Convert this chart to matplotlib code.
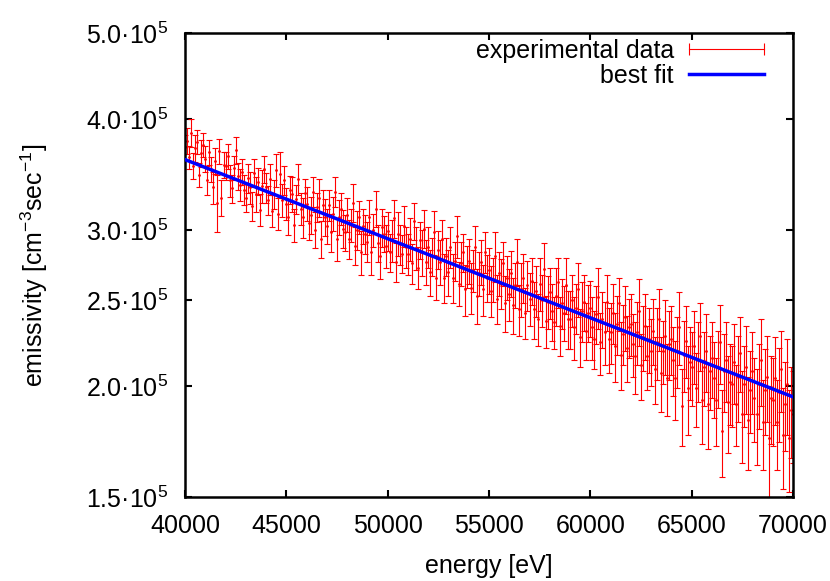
import matplotlib.pyplot as plt
import numpy as np
from matplotlib.lines import Line2D
from matplotlib.ticker import NullLocator

plt.rcParams['font.family'] = ['Liberation Sans', 'DejaVu Sans']
plt.rcParams['mathtext.default'] = 'regular'

# energy grid [eV], one point every 100 eV
energy = np.arange(40000, 70001, 100)

# emissivity, in units of 1e3 cm^-3 sec^-1
emis = [
    372, 378, 362, 386, 354, 371, 377, 346, 366, 374,
    361, 341, 367, 351, 335, 359, 322, 368, 326, 355,
    354, 363, 341, 334, 352, 369, 345, 337, 349, 333,
    326, 343, 335, 319, 348, 329, 340, 316, 336, 351,
    335, 324, 342, 315, 329, 350, 313, 347, 324, 341,
    321, 310, 333, 329, 304, 325, 342, 317, 310, 330,
    321, 305, 312, 331, 300, 318, 326, 293, 320, 310,
    303, 320, 298, 313, 331, 293, 310, 317, 301, 298,
    312, 293, 304, 322, 288, 300, 310, 283, 303, 297,
    291, 310, 283, 300, 317, 290, 280, 302, 297, 288,
    299, 283, 292, 309, 276, 297, 289, 282, 303, 287,
    282, 293, 275, 307, 286, 272, 292, 283, 301, 276,
    287, 269, 280, 298, 265, 285, 276, 293, 265, 280,
    269, 287, 265, 277, 295, 261, 275, 283, 257, 273,
    277, 258, 270, 287, 253, 268, 276, 257, 283, 265,
    270, 256, 264, 280, 251, 268, 261, 275, 248, 265,
    254, 268, 247, 260, 276, 244, 257, 265, 242, 260,
    251, 263, 244, 256, 238, 261, 250, 271, 237, 249,
    255, 243, 236, 253, 262, 234, 248, 242, 260, 238,
    238, 250, 233, 245, 257, 227, 243, 249, 231, 242,
    245, 233, 226, 241, 252, 224, 238, 230, 249, 226,
    230, 242, 222, 235, 248, 217, 229, 239, 221, 233,
    235, 223, 216, 230, 243, 211, 227, 234, 216, 226,
    219, 231, 209, 224, 238, 207, 219, 228, 204, 223,
    226, 214, 204, 219, 233, 190, 217, 225, 199, 213,
    210, 222, 199, 214, 228, 193, 210, 219, 191, 208,
    215, 204, 193, 210, 224, 178, 208, 214, 192, 202,
    201, 213, 191, 205, 218, 186, 201, 210, 183, 198,
    208, 194, 186, 201, 214, 182, 198, 205, 175, 194,
    193, 204, 182, 197, 209, 176, 191, 201, 175, 188,
    186,
]

# half-length of the error bars, same units
emis_err = [
    12, 13, 11, 14, 12, 13, 12, 11, 13, 12,
    12, 13, 12, 11, 14, 12, 24, 12, 15, 12,
    13, 12, 14, 12, 11, 13, 12, 14, 12, 13,
    12, 13, 14, 12, 13, 15, 12, 13, 14, 12,
    13, 12, 14, 13, 12, 15, 13, 20, 14, 13,
    13, 14, 12, 15, 13, 12, 14, 13, 16, 12,
    14, 13, 15, 13, 14, 12, 16, 14, 13, 15,
    14, 13, 15, 14, 13, 16, 14, 13, 15, 14,
    14, 15, 13, 16, 14, 15, 13, 16, 14, 15,
    15, 14, 16, 13, 15, 14, 16, 15, 14, 16,
    15, 14, 16, 15, 14, 17, 15, 14, 16, 15,
    15, 16, 14, 15, 16, 15, 14, 17, 15, 16,
    15, 16, 14, 17, 15, 14, 16, 15, 17, 14,
    16, 15, 17, 14, 16, 15, 16, 14, 17, 15,
    16, 17, 15, 16, 18, 15, 16, 17, 15, 16,
    16, 17, 15, 18, 16, 15, 17, 16, 18, 15,
    17, 16, 18, 15, 17, 16, 18, 17, 16, 17,
    17, 16, 18, 17, 16, 18, 17, 19, 16, 17,
    17, 18, 16, 19, 17, 18, 16, 17, 19, 18,
    18, 17, 19, 16, 18, 17, 19, 18, 17, 18,
    18, 19, 17, 18, 20, 18, 17, 19, 18, 19,
    18, 19, 20, 18, 17, 19, 18, 20, 19, 18,
    19, 18, 20, 19, 21, 18, 19, 20, 18, 19,
    19, 20, 18, 21, 19, 20, 18, 22, 19, 20,
    20, 19, 21, 20, 22, 19, 20, 21, 23, 20,
    20, 21, 19, 22, 20, 21, 20, 22, 21, 20,
    21, 20, 22, 21, 23, 20, 21, 22, 24, 21,
    21, 22, 20, 23, 21, 22, 21, 24, 22, 21,
    22, 21, 23, 22, 24, 21, 22, 23, 25, 22,
    22, 23, 21, 24, 22, 23, 22, 25, 23, 22,
    22,
]

# best fit (straight on the log axis), end points
fit_energy = [40000, 70000]
fit_emis = [3.60e5, 1.945e5]

y = np.array(emis) * 1e3
yerr = np.array(emis_err) * 1e3

fig = plt.figure(figsize=(8.30, 5.81), dpi=100)
ax = fig.add_axes([0.2229, 0.1446, 0.7325, 0.7986])

ax.errorbar(energy, y, yerr=yerr, fmt='.', ms=2, color='red',
            ecolor='red', elinewidth=0.8, capsize=2.5, capthick=0.8,
            zorder=2)
ax.plot(fit_energy, fit_emis, color='#0000ff', lw=2.5, zorder=3)

ax.set_yscale('log')
ax.set_xlim(40000, 70000)
ax.set_ylim(1.5e5, 5.0e5)

yt = [1.5e5, 2.0e5, 2.5e5, 3.0e5, 4.0e5, 5.0e5]
ax.set_yticks(yt)
ax.set_yticklabels(['{:.1f}·10$^5$'.format(v / 1e5) for v in yt])
ax.yaxis.set_minor_locator(NullLocator())
ax.set_xticks(range(40000, 70001, 5000))

ax.tick_params(direction='in', length=5, width=1.5, labelsize=18,
               top=True, right=True)
ax.tick_params(axis='y', pad=12)
ax.tick_params(axis='x', pad=12)
for s in ax.spines.values():
    s.set_linewidth(1.8)

ax.set_xlabel('energy [eV]', fontsize=18, labelpad=12)
ax.set_ylabel('emissivity [cm$^{-3}$sec$^{-1}$]', fontsize=18, labelpad=26)

# gnuplot-like legend samples
h_data = Line2D([0], [0], color='red', lw=0.8, marker='|', ms=8, mew=0.8)
h_fit = Line2D([0], [0], color='#0000ff', lw=2.5)
ax.legend([h_data, h_fit], ['experimental data', 'best fit'],
          loc='upper right', bbox_to_anchor=(0.977, 1.004),
          frameon=False, markerfirst=False,
          fontsize=18, handlelength=3.6, handletextpad=0.3,
          numpoints=2, labelspacing=0.05, borderaxespad=0,
          borderpad=0.3)

plt.savefig('out.png', dpi=100)
